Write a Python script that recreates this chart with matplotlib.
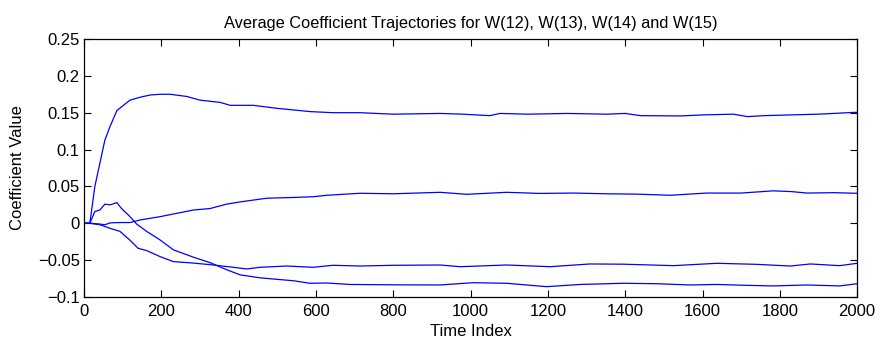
import matplotlib
matplotlib.use("Agg")
import matplotlib.pyplot as plt
import numpy as np

plt.rcParams['font.family'] = ['Liberation Sans', 'DejaVu Sans']

# W(12): fast rise to ~0.175 then settles near 0.148
w12_t = [0, 15, 28, 54, 67, 85, 119, 145, 171, 197, 223, 266, 300, 352, 378, 438, 498,
         585, 644, 714, 800, 921, 980, 1050, 1076, 1150, 1250, 1352, 1400, 1440, 1542,
         1600, 1680, 1716, 1760, 1827, 1900, 2000]
w12_v = [0, 0, 0.050, 0.113, 0.131, 0.153, 0.167, 0.171, 0.174, 0.175, 0.175, 0.172,
         0.167, 0.164, 0.160, 0.160, 0.156, 0.1515, 0.150, 0.150, 0.148, 0.149, 0.148,
         0.146, 0.149, 0.148, 0.149, 0.148, 0.149, 0.146, 0.1456, 0.147, 0.148, 0.1447,
         0.146, 0.147, 0.148, 0.1506]

# W(13): slow climb to ~0.04
w13_t = [0, 15, 40, 54, 67, 93, 119, 145, 197, 240, 283, 326, 369, 404, 473, 541, 593,
         628, 714, 800, 921, 990, 1093, 1180, 1266, 1352, 1430, 1517, 1611, 1700, 1783,
         1830, 1870, 1940, 2000]
w13_v = [0, 0, -0.001, -0.002, 0.0005, 0.001, 0.001, 0.0045, 0.009, 0.0135, 0.018,
         0.020, 0.026, 0.029, 0.034, 0.035, 0.036, 0.038, 0.0407, 0.040, 0.042, 0.0393,
         0.042, 0.0405, 0.041, 0.040, 0.0395, 0.038, 0.041, 0.041, 0.044, 0.043, 0.041,
         0.0415, 0.0407]

# W(14): small bump up, then down to ~-0.083
w14_t = [0, 15, 28, 41, 54, 67, 85, 97, 119, 136, 162, 197, 231, 283, 326, 369, 404,
         455, 542, 585, 628, 688, 800, 921, 1007, 1093, 1197, 1283, 1395, 1482, 1568,
         1637, 1700, 1783, 1870, 1955, 2000]
w14_v = [0, 0, 0.016, 0.018, 0.026, 0.025, 0.028, 0.020, 0.009, -0.001, -0.011,
         -0.0227, -0.036, -0.046, -0.0534, -0.063, -0.070, -0.074, -0.078, -0.0814,
         -0.081, -0.083, -0.0835, -0.0837, -0.0806, -0.0814, -0.086, -0.083, -0.0814,
         -0.082, -0.0837, -0.083, -0.084, -0.085, -0.0837, -0.085, -0.082]

# W(15): early drop, settles near -0.057
w15_t = [0, 15, 41, 67, 93, 119, 140, 162, 197, 231, 283, 335, 386, 421, 455, 524,
         593, 644, 714, 800, 921, 973, 1093, 1206, 1309, 1395, 1525, 1637, 1740, 1827,
         1879, 1955, 2000]
w15_v = [0, 0, -0.002, -0.0068, -0.011, -0.023, -0.034, -0.037, -0.0453, -0.052,
         -0.054, -0.0566, -0.0597, -0.062, -0.0597, -0.058, -0.0597, -0.057, -0.058,
         -0.057, -0.0566, -0.0589, -0.0566, -0.0589, -0.0552, -0.0555, -0.0575,
         -0.0543, -0.0557, -0.058, -0.0552, -0.0575, -0.0543]

fig = plt.figure(figsize=(8.8, 3.42), dpi=100)
ax = fig.add_axes([0.0955, 0.1316, 0.8785, 0.7544])

for t, v in [(w12_t, w12_v), (w13_t, w13_v), (w14_t, w14_v), (w15_t, w15_v)]:
    ax.plot(t, v, color='#0000ff', lw=0.9)

ax.set_xlim(0, 2000)
ax.set_ylim(-0.1, 0.25)
ax.set_xticks(np.arange(0, 2001, 200))
ax.set_yticks([-0.1, -0.05, 0, 0.05, 0.1, 0.15, 0.2, 0.25])
ax.set_yticklabels(['\u22120.1', '\u22120.05', '0', '0.05', '0.1', '0.15', '0.2', '0.25'])
ax.tick_params(direction='in', length=5, width=0.8, top=True, right=True,
               labelsize=12, colors='black')
ax.tick_params(axis='x', pad=5)
ax.tick_params(axis='y', pad=3)
for s in ax.spines.values():
    s.set_linewidth(0.9)

ax.set_title('Average Coefficient Trajectories for W(12), W(13), W(14) and W(15)',
             fontsize=11.8, pad=8)
ax.set_xlabel('Time Index', fontsize=12)
ax.set_ylabel('Coefficient Value', fontsize=12)
ax.xaxis.set_label_coords(0.5, -0.106)
ax.yaxis.set_label_coords(-0.076, 0.5)

fig.savefig('out.png', dpi=100)
